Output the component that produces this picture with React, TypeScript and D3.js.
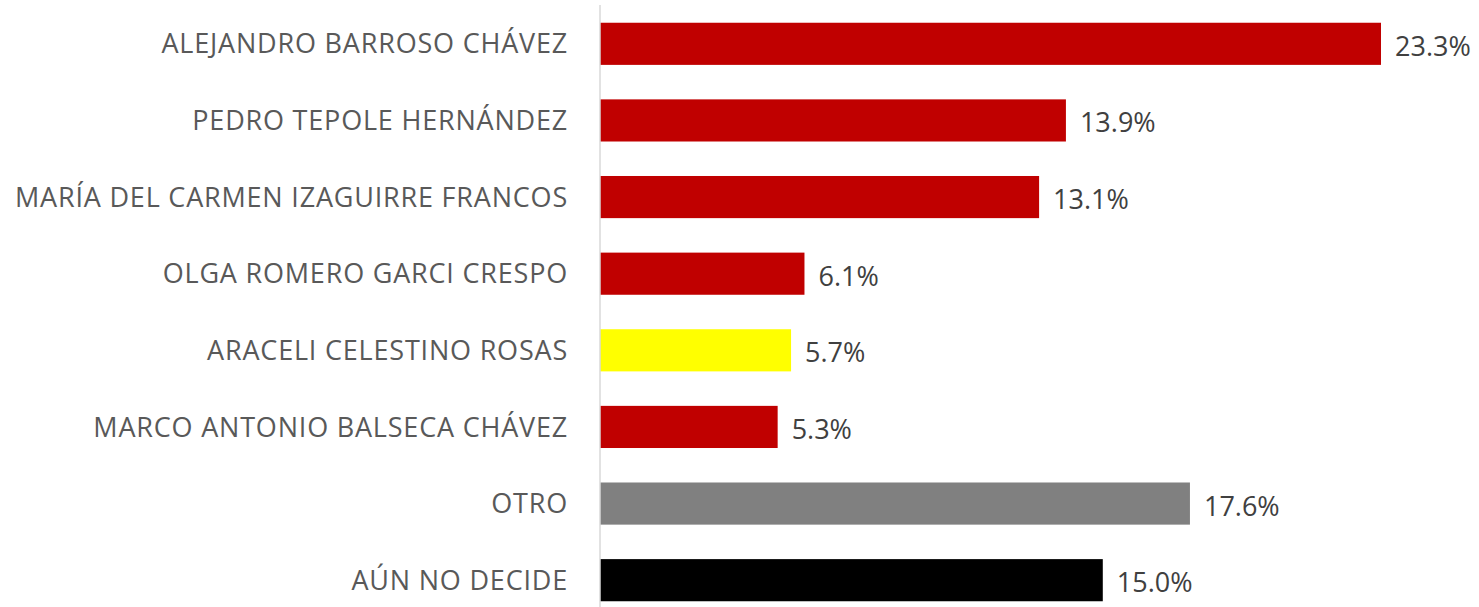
import React from "react";
import * as d3 from "d3";

const categories = [
  "ALEJANDRO BARROSO CHÁVEZ",
  "PEDRO TEPOLE HERNÁNDEZ",
  "MARÍA DEL CARMEN IZAGUIRRE FRANCOS",
  "OLGA ROMERO GARCI CRESPO",
  "ARACELI CELESTINO ROSAS",
  "MARCO ANTONIO BALSECA CHÁVEZ",
  "OTRO",
  "AÚN NO DECIDE",
];
const values = [23.3, 13.9, 13.1, 6.1, 5.7, 5.3, 17.6, 15.0];
const colors = ["#C00000", "#C00000", "#C00000", "#C00000", "#FFFF00", "#C00000", "#808080", "#000000"];

const W = 1479;
const H = 607;

export default function App() {
  const x = d3.scaleLinear().domain([0, 23.3]).range([600, 1381]);
  const y = d3.scaleBand().domain(categories).range([5.5, 618.5]).paddingInner(0.45).paddingOuter(0.225);
  const font = "'Open Sans', sans-serif";
  return (
    <svg width={W} height={H} style={{ position: "absolute", left: 0, top: 0 }}>
      {categories.map((c, i) => (
        <g key={c}>
          <rect x={x(0)} y={y(c)!} width={x(values[i]) - x(0)} height={y.bandwidth()} fill={colors[i]} />
          <text
            x={568}
            y={y(c)! + y.bandwidth() / 2 + 9.6}
            textAnchor="end"
            fontFamily={font}
            fontSize={27}
            letterSpacing={0.8}
            fill="#595959"
          >
            {c}
          </text>
          <text
            x={x(values[i]) + 14}
            y={y(c)! + y.bandwidth() / 2 + 12}
            fontFamily={font}
            fontSize={27}
            fill="#404040"
          >
            {values[i].toFixed(1) + "%"}
          </text>
        </g>
      ))}
      <line x1={x(0)} x2={x(0)} y1={5} y2={H} stroke="#d9d9d9" strokeWidth={1.5} />
    </svg>
  );
}
